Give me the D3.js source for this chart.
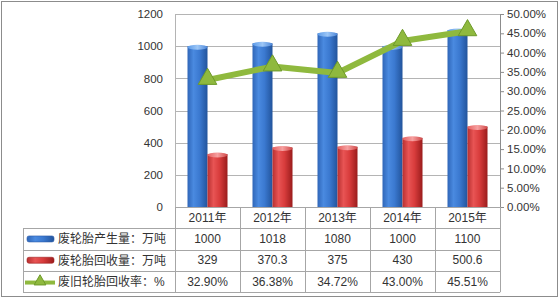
<!DOCTYPE html>
<html>
<head>
<meta charset="utf-8">
<script src="https://cdn.jsdelivr.net/npm/d3@7"></script>
<style>
  body { margin: 0; background: #fff; }
  svg text { font-family: "Liberation Sans", "Noto Sans CJK SC", sans-serif; fill: #333; }
</style>
</head>
<body>
<svg id="chart" width="560" height="299"></svg>
<script>
// chart data
let years = ["2011年", "2012年", "2013年", "2014年", "2015年"]
let production = [1000, 1018, 1080, 1000, 1100]
let recovery = [329, 370.3, 375, 430, 500.6]
let rate = [32.90, 36.38, 34.72, 43.00, 45.51]
let seriesNames = ["废轮胎产生量：万吨", "废轮胎回收量：万吨", "废旧轮胎回收率：%"]
let leftTicks = [0, 200, 400, 600, 800, 1000, 1200]
let rightTicks = [0, 5, 10, 15, 20, 25, 30, 35, 40, 45, 50]

let svg = d3.select("#chart")
let plotLeft = 175, plotRight = 500, plotTop = 14, plotBottom = 207
let tableLeft = 23, rowH = 21.3

// outer frame
svg.append("rect").attr("x", 1.5).attr("y", 1.5).attr("width", 556).attr("height", 295)
    .attr("fill", "#fff").attr("stroke", "#8c8c8c")

// gradients for the cylinder look
let defs = svg.append("defs")
let makeGrad = (id, stops) => {
    let g = defs.append("linearGradient").attr("id", id).attr("x1", 0).attr("x2", 1).attr("y1", 0).attr("y2", 0)
    stops.forEach(s => g.append("stop").attr("offset", s[0]).attr("stop-color", s[1]))
}
makeGrad("blueBar", [[0, "#2f66b8"], [0.3, "#4a8ae0"], [0.6, "#3b79d0"], [1, "#22549c"]])
makeGrad("redBar", [[0, "#b83030"], [0.3, "#e85454"], [0.6, "#d83c3c"], [1, "#9a1c1c"]])
makeGrad("blueTop", [[0, "#5b9ae8"], [0.5, "#9cc6f6"], [1, "#4c86d8"]])
makeGrad("redTop", [[0, "#e56060"], [0.5, "#f6a0a0"], [1, "#d04848"]])

let x = d3.scaleBand().domain(years).range([plotLeft, plotRight])
let xSub = d3.scaleBand().domain(["p", "r"]).range([0, x.bandwidth()]).paddingOuter(0.625)
let y = d3.scaleLinear().domain([0, 1200]).range([plotBottom, plotTop])
let y2 = d3.scaleLinear().domain([0, 50]).range([plotBottom, plotTop])

// gridlines
svg.append("g").selectAll("line").data(leftTicks).join("line")
    .attr("x1", plotLeft).attr("x2", plotRight)
    .attr("y1", d => Math.round(y(d)) + 0.5).attr("y2", d => Math.round(y(d)) + 0.5)
    .attr("stroke", "#b4b4b4")
svg.append("line").attr("x1", plotLeft + 0.5).attr("x2", plotLeft + 0.5).attr("y1", plotTop).attr("y2", plotBottom)
    .attr("stroke", "#b4b4b4")

// left axis
let yAxis = svg.append("g").attr("transform", `translate(${plotLeft},0)`)
    .call(d3.axisLeft(y).tickValues(leftTicks).tickSize(0).tickPadding(12).tickFormat(d3.format("d")))
yAxis.select(".domain").remove()
yAxis.selectAll("text").attr("font-size", 11.5)

// right axis
let y2Axis = svg.append("g").attr("transform", `translate(${plotRight},0)`)
    .call(d3.axisRight(y2).tickValues(rightTicks).tickSize(4).tickPadding(3).tickFormat(d => d3.format(".2f")(d) + "%"))
y2Axis.select(".domain").attr("stroke", "#8c8c8c")
y2Axis.selectAll("line").attr("stroke", "#8c8c8c")
y2Axis.selectAll("text").attr("font-size", 11.5)

// bars
let drawBars = (vals, key, grad, topGrad) => {
    let g = svg.append("g")
    g.selectAll("rect").data(vals).join("rect")
        .attr("x", (d, i) => x(years[i]) + xSub(key))
        .attr("y", d => y(d))
        .attr("width", xSub.bandwidth())
        .attr("height", d => plotBottom - y(d))
        .attr("fill", `url(#${grad})`)
    g.selectAll("ellipse").data(vals).join("ellipse")
        .attr("cx", (d, i) => x(years[i]) + xSub(key) + xSub.bandwidth() / 2)
        .attr("cy", d => y(d) + 1)
        .attr("rx", xSub.bandwidth() / 2)
        .attr("ry", 2.5)
        .attr("fill", `url(#${topGrad})`)
}
drawBars(production, "p", "blueBar", "blueTop")
drawBars(recovery, "r", "redBar", "redTop")

// rate line
let cx = i => x(years[i]) + x.bandwidth() / 2
let line = d3.line().x((d, i) => cx(i)).y(d => y2(d))
svg.append("path").datum(rate).attr("d", line)
    .attr("fill", "none").attr("stroke", "#8fb93e").attr("stroke-width", 6).attr("stroke-linejoin", "round")
let tri = d3.symbol().type(d3.symbolTriangle).size(150)
svg.append("g").selectAll("path").data(rate).join("path")
    .attr("d", tri)
    .attr("transform", (d, i) => `translate(${cx(i)},${y2(d) - 1})`)
    .attr("fill", "#8fb93e").attr("stroke", "#6e9a2a").attr("stroke-width", 1)

// data table
let tbl = svg.append("g").attr("stroke", "#a6a6a6").attr("fill", "none")
let tableBottom = plotBottom + rowH * 4
tbl.append("line").attr("x1", plotLeft).attr("x2", plotRight).attr("y1", plotBottom + 0.5).attr("y2", plotBottom + 0.5)
for (let r = 1; r <= 4; r++) {
    let yy = Math.round(plotBottom + rowH * r) + 0.5
    tbl.append("line").attr("x1", tableLeft).attr("x2", plotRight).attr("y1", yy).attr("y2", yy)
}
tbl.append("line").attr("x1", tableLeft + 0.5).attr("x2", tableLeft + 0.5).attr("y1", plotBottom + rowH).attr("y2", tableBottom)
years.concat(["end"]).forEach((yr, i) => {
    let xx = Math.round(plotLeft + x.bandwidth() * i) + 0.5
    tbl.append("line").attr("x1", xx).attr("x2", xx).attr("y1", plotBottom).attr("y2", tableBottom)
})

let rowY = r => plotBottom + rowH * r + rowH / 2 + 4
svg.append("g").selectAll("text").data(years).join("text")
    .attr("x", d => x(d) + x.bandwidth() / 2).attr("y", rowY(0))
    .attr("text-anchor", "middle").attr("font-size", 12).text(d => d)
let rows = [
    production.map(d => String(d)),
    recovery.map(d => String(d)),
    rate.map(d => d3.format(".2f")(d) + "%")
]
rows.forEach((vals, r) => {
    svg.append("g").selectAll("text").data(vals).join("text")
        .attr("x", (d, i) => x(years[i]) + x.bandwidth() / 2).attr("y", rowY(r + 1))
        .attr("text-anchor", "middle").attr("font-size", 12).text(d => d)
})

// row labels with legend keys
seriesNames.forEach((name, r) => {
    let cy = plotBottom + rowH * (r + 1) + rowH / 2
    if (r < 2) {
        svg.append("rect").attr("x", 27).attr("y", cy - 3).attr("width", 27).attr("height", 6)
            .attr("rx", 2).attr("fill", r == 0 ? "url(#blueBar)" : "url(#redBar)")
            .attr("stroke", r == 0 ? "#2a5aa8" : "#a02020").attr("stroke-width", 0.6)
    } else {
        svg.append("line").attr("x1", 25).attr("x2", 55).attr("y1", cy + 1).attr("y2", cy + 1)
            .attr("stroke", "#8fb93e").attr("stroke-width", 4)
        svg.append("path").attr("d", d3.symbol().type(d3.symbolTriangle).size(60))
            .attr("transform", `translate(40,${cy})`).attr("fill", "#8fb93e").attr("stroke", "#6e9a2a")
    }
    svg.append("text").attr("x", 58).attr("y", cy + 4.5).attr("font-size", 12).text(name)
})
</script>
</body>
</html>
